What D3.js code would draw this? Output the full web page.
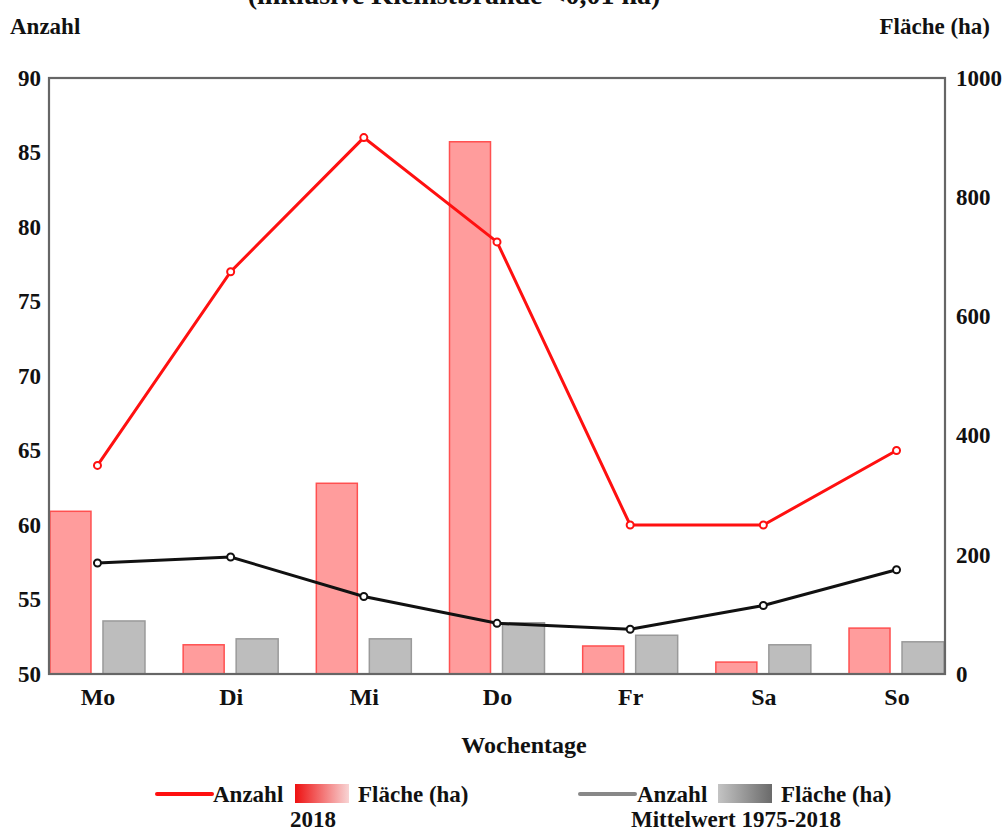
<!DOCTYPE html>
<html><head><meta charset="utf-8">
<script src="https://cdn.jsdelivr.net/npm/d3@7"></script>
<style>body{margin:0;background:#fff}svg{display:block}text{font-family:"Liberation Serif","Times New Roman",serif;font-weight:bold;fill:#111}</style>
</head><body><svg id="c" width="1005" height="832"></svg>
<script>
const days = ["Mo","Di","Mi","Do","Fr","Sa","So"];
const anzahl2018 = [64, 77, 86, 79, 60, 60, 65];
const flaeche2018 = [273, 49, 320, 893, 47, 20, 77];
const anzahlMittel = [57.45, 57.85, 55.2, 53.4, 53.0, 54.6, 57.0];
const flaecheMittel = [89, 59, 59, 86, 65, 49, 54];
const leftTicks = [50,55,60,65,70,75,80,85,90];
const rightTicks = [0,200,400,600,800,1000];

const svg = d3.select("#c");
const L = 49, R = 945, T = 78, B = 674;
const x = d3.scalePoint().domain(days).range([L, R]).padding(0.364);
const yL = d3.scaleLinear().domain([50, 90]).range([B, T]);
const yR = d3.scaleLinear().domain([0, 1000]).range([B, T]);
const FS = "23px";

// title (cut off at the top as in the reference)
svg.append("text").attr("x", 454).attr("y", 4).attr("text-anchor","middle").style("font-size","28px")
  .text("(inklusive Kleinstbrände <0,01 ha)");
svg.append("text").attr("x", 10).attr("y", 34).style("font-size",FS).text("Anzahl");
svg.append("text").attr("x", 990).attr("y", 34).attr("text-anchor","end").style("font-size",FS).text("Fläche (ha)");

// bars
const bw = 41;
svg.selectAll(".b18").data(days).join("rect")
  .attr("x", d => x(d) - 47.5).attr("width", bw)
  .attr("y", (d,i) => yR(flaeche2018[i])).attr("height", (d,i) => B - yR(flaeche2018[i]))
  .attr("fill", "#ff9c9c").attr("stroke", "#ff5050").attr("stroke-width", 1.5);
svg.selectAll(".bm").data(days).join("rect")
  .attr("x", d => x(d) + 5.5).attr("width", bw + 1)
  .attr("y", (d,i) => yR(flaecheMittel[i])).attr("height", (d,i) => B - yR(flaecheMittel[i]))
  .attr("fill", "#bdbdbd").attr("stroke", "#9a9a9a").attr("stroke-width", 1.5);

// frame & axes
svg.append("rect").attr("x", L).attr("y", T).attr("width", R-L).attr("height", B-T)
  .attr("fill","none").attr("stroke","#666").attr("stroke-width",2.2);
const ax = svg.append("g").attr("transform", `translate(${L},0)`)
  .call(d3.axisLeft(yL).tickValues(leftTicks).tickSize(0).tickPadding(8).tickFormat(d3.format("d")));
ax.select(".domain").remove();
ax.selectAll("text").style("font-size",FS).style("font-family","Liberation Serif").attr("fill","#111");
const ar = svg.append("g").attr("transform", `translate(${R},0)`)
  .call(d3.axisRight(yR).tickValues(rightTicks).tickSize(0).tickPadding(11).tickFormat(d3.format("d")));
ar.select(".domain").remove();
ar.selectAll("text").style("font-size",FS).style("font-family","Liberation Serif").attr("fill","#111");
const ab = svg.append("g").attr("transform", `translate(0,${B})`)
  .call(d3.axisBottom(x).tickSize(0).tickPadding(14));
ab.select(".domain").remove();
ab.selectAll("text").style("font-size","24px").style("font-family","Liberation Serif").attr("fill","#111");

// lines
const line = (arr) => d3.line().x((d,i) => x(days[i])).y(d => yL(d))(arr);
svg.append("path").attr("d", line(anzahl2018)).attr("fill","none").attr("stroke","#ff1010").attr("stroke-width",3);
svg.selectAll(".p18").data(anzahl2018).join("circle")
  .attr("cx",(d,i)=>x(days[i])).attr("cy",d=>yL(d)).attr("r",3.5)
  .attr("fill","#fff").attr("stroke","#ff1010").attr("stroke-width",2);
svg.append("path").attr("d", line(anzahlMittel)).attr("fill","none").attr("stroke","#111").attr("stroke-width",3);
svg.selectAll(".pm").data(anzahlMittel).join("circle")
  .attr("cx",(d,i)=>x(days[i])).attr("cy",d=>yL(d)).attr("r",3.5)
  .attr("fill","#fff").attr("stroke","#111").attr("stroke-width",2);

svg.append("text").attr("x", 524).attr("y", 753).attr("text-anchor","middle").style("font-size","24px").text("Wochentage");

// legend
const defs = svg.append("defs");
const g1 = defs.append("linearGradient").attr("id","gr");
g1.append("stop").attr("offset","0%").attr("stop-color","#ee1111");
g1.append("stop").attr("offset","100%").attr("stop-color","#f8d4d4");
const g2 = defs.append("linearGradient").attr("id","gg");
g2.append("stop").attr("offset","0%").attr("stop-color","#c4c4c4");
g2.append("stop").attr("offset","100%").attr("stop-color","#6a6a6a");

svg.append("line").attr("x1",157).attr("x2",212).attr("y1",794).attr("y2",794).attr("stroke","#ff1010").attr("stroke-width",4).attr("stroke-linecap","round");
svg.append("text").attr("x",213).attr("y",802).style("font-size",FS).text("Anzahl");
svg.append("rect").attr("x",295).attr("y",784).attr("width",54).attr("height",19).attr("fill","url(#gr)");
svg.append("text").attr("x",358).attr("y",802).style("font-size",FS).text("Fläche (ha)");
svg.append("text").attr("x",313).attr("y",827).attr("text-anchor","middle").style("font-size",FS).text("2018");

svg.append("line").attr("x1",580).attr("x2",635).attr("y1",794).attr("y2",794).attr("stroke","#888").attr("stroke-width",4).attr("stroke-linecap","round");
svg.append("text").attr("x",637).attr("y",802).style("font-size",FS).text("Anzahl");
svg.append("rect").attr("x",718).attr("y",784).attr("width",54).attr("height",19).attr("fill","url(#gg)");
svg.append("text").attr("x",781).attr("y",802).style("font-size",FS).text("Fläche (ha)");
svg.append("text").attr("x",736).attr("y",827).attr("text-anchor","middle").style("font-size",FS).text("Mittelwert 1975-2018");
</script></body></html>
